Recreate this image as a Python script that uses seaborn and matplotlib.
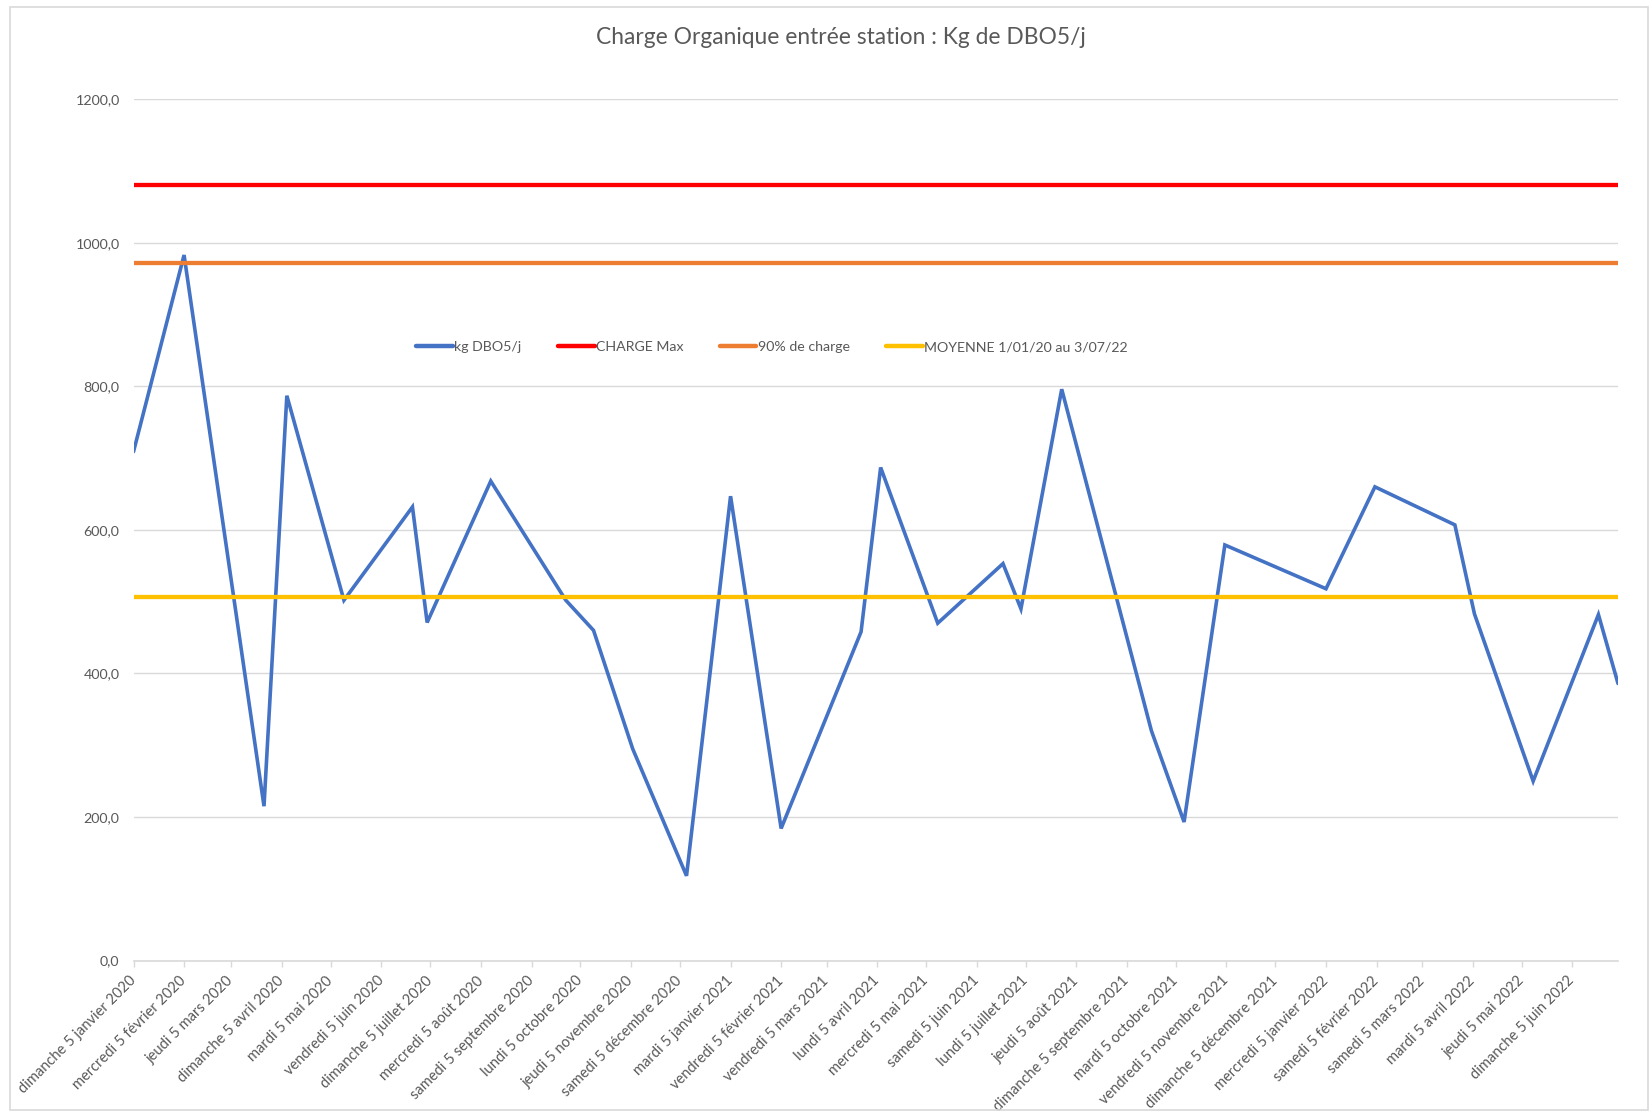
import matplotlib
matplotlib.use("Agg")
import matplotlib.pyplot as plt
from matplotlib.patches import Rectangle
from matplotlib.ticker import FuncFormatter
import seaborn as sns
import pandas as pd

# Mesures de charge organique en entrée de station
dates = [
    "2020-01-05", "2020-02-05", "2020-03-25", "2020-04-08", "2020-05-13",
    "2020-06-24", "2020-07-03", "2020-08-11", "2020-09-26", "2020-10-13",
    "2020-11-06", "2020-12-09", "2021-01-05", "2021-02-05", "2021-03-26",
    "2021-04-07", "2021-05-12", "2021-06-21", "2021-07-02", "2021-07-27",
    "2021-09-20", "2021-10-10", "2021-11-04", "2022-01-05", "2022-02-04",
    "2022-03-25", "2022-04-06", "2022-05-12", "2022-06-21", "2022-07-03",
]
kg_dbo5 = [
    709, 983, 215, 787, 502,
    632, 471, 668, 502, 460,
    295, 118, 647, 184, 458,
    687, 470, 553, 490, 796,
    320, 193, 579, 518, 660,
    607, 483, 250, 482, 386,
]
charge_max = 1080.0
charge_90 = 972.0
moyenne = 506.0

series_labels = ["kg DBO5/j", "CHARGE Max", "90% de charge", "MOYENNE 1/01/20 au 3/07/22"]
series_colors = ["#4472C4", "#FF0000", "#ED7D31", "#FFC000"]

tick_labels = [
    "dimanche 5 janvier 2020", "mercredi 5 février 2020", "jeudi 5 mars 2020",
    "dimanche 5 avril 2020", "mardi 5 mai 2020", "vendredi 5 juin 2020",
    "dimanche 5 juillet 2020", "mercredi 5 août 2020", "samedi 5 septembre 2020",
    "lundi 5 octobre 2020", "jeudi 5 novembre 2020", "samedi 5 décembre 2020",
    "mardi 5 janvier 2021", "vendredi 5 février 2021", "vendredi 5 mars 2021",
    "lundi 5 avril 2021", "mercredi 5 mai 2021", "samedi 5 juin 2021",
    "lundi 5 juillet 2021", "jeudi 5 août 2021", "dimanche 5 septembre 2021",
    "mardi 5 octobre 2021", "vendredi 5 novembre 2021", "dimanche 5 décembre 2021",
    "mercredi 5 janvier 2022", "samedi 5 février 2022", "samedi 5 mars 2022",
    "mardi 5 avril 2022", "jeudi 5 mai 2022", "dimanche 5 juin 2022",
]

title = "Charge Organique entrée station : Kg de DBO5/j"

sns.set_theme(style="white")
plt.rcParams["font.family"] = ["Lato", "DejaVu Sans"]

TXT = "#595959"
GRID = "#D9D9D9"

W, H = 1651, 1117
fig = plt.figure(figsize=(W / 100, H / 100), dpi=100)
fig.patch.set_facecolor("white")

# outer chart frame
fig.patches.append(Rectangle((10 / W, 1 - 1110 / H), (1648 - 10) / W, (1110 - 7) / H,
                             transform=fig.transFigure, fill=False,
                             edgecolor=GRID, linewidth=1.2))

x0, x1, ytop, ybot = 133.5, 1618.0, 99.3, 960.5
ax = fig.add_axes([x0 / W, 1 - ybot / H, (x1 - x0) / W, (ybot - ytop) / H])

df = pd.DataFrame({"date": pd.to_datetime(dates), "kg": kg_dbo5})
df["max"] = charge_max
df["p90"] = charge_90
df["moy"] = moyenne

for col, lab, colr, lw in zip(["kg", "max", "p90", "moy"], series_labels, series_colors,
                              [2.6, 3.1, 3.1, 3.1]):
    sns.lineplot(data=df, x="date", y=col, color=colr, linewidth=lw, label=lab,
                 ax=ax, solid_joinstyle="miter", zorder=3)

ax.set_ylim(0, 1200)
ax.set_yticks(range(0, 1201, 200))
ax.yaxis.set_major_formatter(FuncFormatter(lambda v, p: f"{v:.1f}".replace(".", ",")))
ax.set_xlim(df["date"].iloc[0], df["date"].iloc[-1])

tick_pos = pd.date_range("2020-01-01", periods=len(tick_labels), freq="MS") + pd.Timedelta(days=4)
ax.set_xticks(tick_pos)
ax.set_xticklabels(tick_labels, rotation=45, ha="right", va="center",
                   rotation_mode="anchor", fontsize=10.5, color=TXT)
ax.tick_params(axis="x", length=4, width=1, color=GRID, direction="out", pad=9, bottom=True)
ax.tick_params(axis="y", length=0, labelsize=10.3, labelcolor=TXT, pad=10)

ax.set_xlabel("")
ax.set_ylabel("")
ax.grid(axis="y", color=GRID, linewidth=1)
ax.grid(axis="x", visible=False)
for s in ["top", "right", "left"]:
    ax.spines[s].set_visible(False)
ax.spines["bottom"].set_color(GRID)
ax.spines["bottom"].set_linewidth(1.2)
ax.set_axisbelow(True)

handles, labels = ax.get_legend_handles_labels()
leg = ax.legend(handles, labels, loc="center", bbox_to_anchor=(772 / W, 1 - 347 / H),
                bbox_transform=fig.transFigure, ncol=4, frameon=False,
                handlelength=2.6, handletextpad=0.1, columnspacing=2.55, fontsize=10.2)
for t in leg.get_texts():
    t.set_color(TXT)
for h in leg.get_lines():
    h.set_linewidth(3.2)

fig.text(841 / W, 1 - 38 / H, title, ha="center", va="center", fontsize=16.4, color=TXT)

fig.savefig("out.png", dpi=100, facecolor="white")
